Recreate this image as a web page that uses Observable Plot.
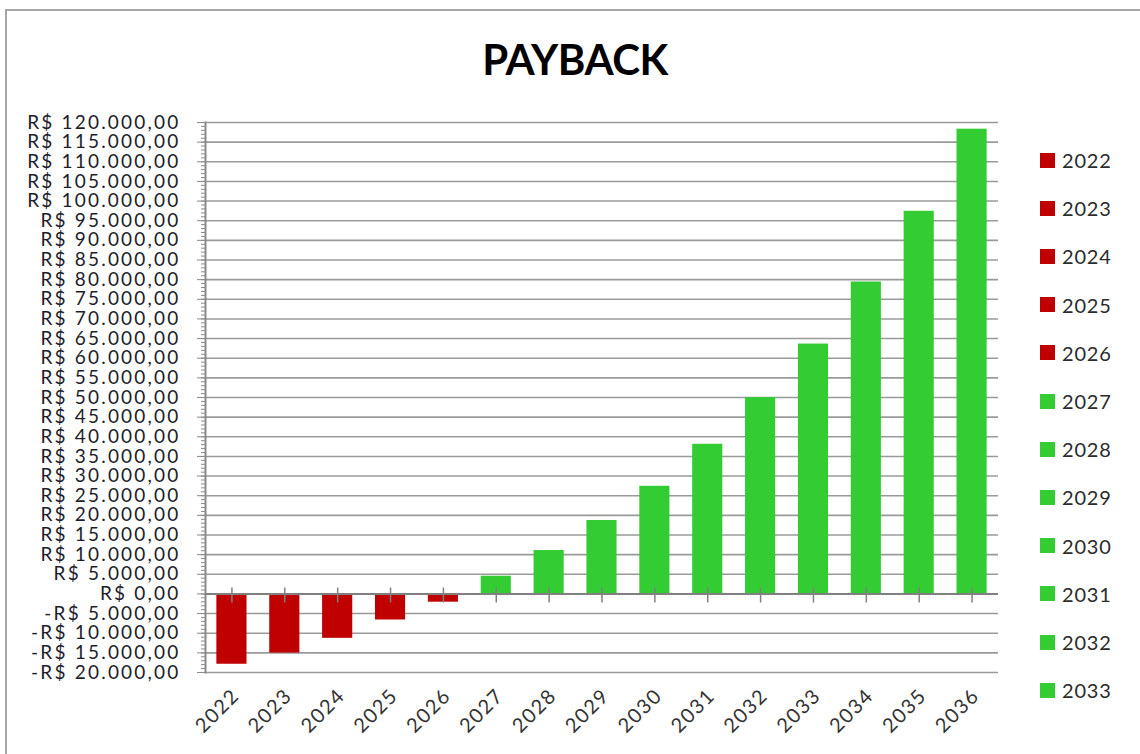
<!DOCTYPE html>
<html><head><meta charset="utf-8">
<script src="https://cdn.jsdelivr.net/npm/d3@7"></script>
<script src="https://cdn.jsdelivr.net/npm/@observablehq/plot@0.6"></script>
<style>
body{margin:0;background:#fff;}
#wrap{position:relative;width:1140px;height:754px;overflow:hidden;font-family:Lato,"Open Sans",sans-serif;background:#fff;}
#border{position:absolute;left:5px;top:9px;width:1200px;height:800px;border:2px solid #a6a6a6;box-sizing:border-box;}
#title{position:absolute;left:0;width:1150px;top:34px;text-align:center;font-weight:700;font-size:42px;letter-spacing:-0.5px;color:#000;line-height:50px;}
#chart{position:absolute;left:0;top:0;}
#chart g[aria-label="y-axis tick label"] text{letter-spacing:2.2px;}
#chart g[aria-label="x-axis tick label"] text{letter-spacing:1.5px;}
.item{position:absolute;left:1040px;height:20px;display:flex;align-items:center;font-size:20px;color:#2b2b2b;letter-spacing:0.8px;}
.sw{width:15px;height:15px;margin-right:7px;}
</style></head>
<body><div id="wrap"><div id="border"></div><div id="chart"></div><div id="title">PAYBACK</div><div id="legend"></div></div>
<script>
const years = ["2022","2023","2024","2025","2026","2027","2028","2029","2030","2031","2032","2033","2034","2035","2036"];
const values = [-17900,-15050,-11300,-6630,-2100,4500,11050,18700,27400,38100,50000,63600,79400,97400,118300];
const legendYears = ["2022","2023","2024","2025","2026","2027","2028","2029","2030","2031","2032","2033"];
const yTicks = [-20000,-15000,-10000,-5000,0,5000,10000,15000,20000,25000,30000,35000,40000,45000,50000,55000,60000,65000,70000,75000,80000,85000,90000,95000,100000,105000,110000,115000,120000];
const RED = "#c00000", GREEN = "#33cc33";

const data = years.map((y, i) => ({year: y, value: values[i]}));
const colorOf = v => v < 0 ? RED : GREEN;
const br = d3.formatLocale({decimal: ",", thousands: ".", grouping: [3], currency: ["R$ ", ""]});
const num = br.format(",.2f");
const fmt = v => (v < 0 ? "-" : "") + "R$ " + num(Math.abs(v));
const minor = d3.range(-20000, 120001, 1000);

const chart = Plot.plot({
  width: 1140, height: 754,
  marginLeft: 205, marginRight: 142, marginTop: 122, marginBottom: 82,
  x: {domain: years, paddingInner: 0.43, paddingOuter: 0.215, round: false, label: null},
  y: {domain: [-20000, 120000], label: null},
  style: {fontFamily: "Lato, 'Open Sans', sans-serif", background: "transparent", color: "#222"},
  marks: [
    Plot.ruleY(yTicks.filter(d => d !== 0), {stroke: "#9a9a9a", strokeWidth: 1.6}),
    Plot.axisY(minor, {tickSize: 4, tickFormat: () => "", stroke: "#8a8a8a"}),
    Plot.axisY(yTicks, {tickSize: 8, tickPadding: 17, tickFormat: fmt, fontSize: 19, stroke: "#8a8a8a", fill: "#1e1e2a"}),
    Plot.frame({anchor: "left", stroke: "#8a8a8a", strokeWidth: 2}),
    Plot.barY(data, {x: "year", y: "value", fill: d => colorOf(d.value)}),
    Plot.ruleY([0], {stroke: "#808080", strokeWidth: 2}),
    Plot.ruleX(data, {x: "year", y1: -2300, y2: 1500, stroke: "#808080", strokeWidth: 1.5}),
    Plot.axisX({tickSize: 0, tickRotate: -45, tickPadding: 20, dx: 4, fontSize: 20, fill: "#333"})
  ]
});
document.getElementById("chart").appendChild(chart);

const legend = document.getElementById("legend");
legendYears.forEach((y, i) => {
  const v = values[years.indexOf(y)];
  const it = document.createElement("div");
  it.className = "item";
  it.style.top = (150 + i * 48.2) + "px";
  const sw = document.createElement("div");
  sw.className = "sw";
  sw.style.background = colorOf(v);
  const t = document.createElement("span");
  t.textContent = y;
  it.appendChild(sw); it.appendChild(t);
  legend.appendChild(it);
});
</script></body></html>
